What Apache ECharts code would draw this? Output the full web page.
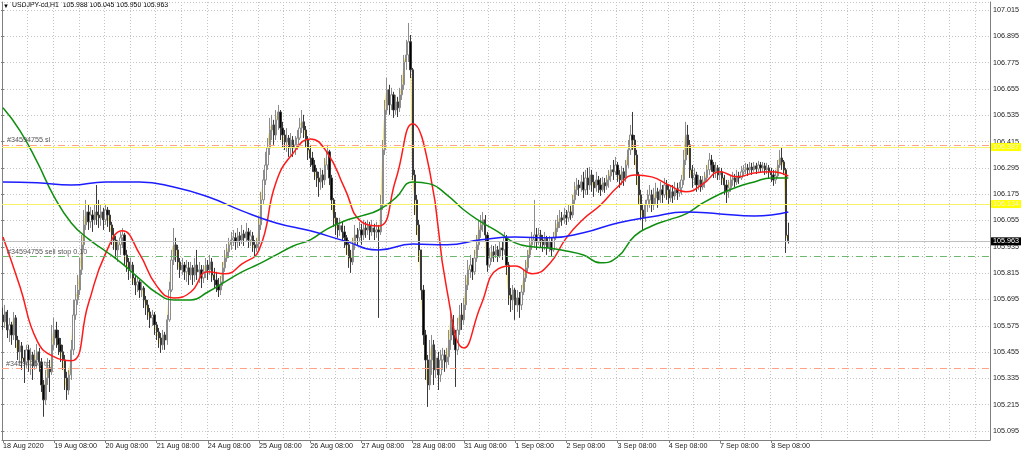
<!DOCTYPE html>
<html><head><meta charset="utf-8">
<script src="https://cdn.jsdelivr.net/npm/echarts@6/dist/echarts.min.js"></script>
<style>html,body{margin:0;padding:0;background:#fff}#c{width:1024px;height:454px}</style>
</head><body><div id="c"></div><script>
const symbol = 'USDJPY-cd,H1';
const dayLabels = ['18 Aug 2020','19 Aug 08:00','20 Aug 08:00','21 Aug 08:00','24 Aug 08:00','25 Aug 08:00','26 Aug 08:00','27 Aug 08:00','28 Aug 08:00','31 Aug 08:00','1 Sep 08:00','2 Sep 08:00','3 Sep 08:00','4 Sep 08:00','7 Sep 08:00','8 Sep 08:00'];
const opens = [
105.624,105.593,105.638,105.556,105.579,105.533,105.611,105.510,105.456,105.483,
105.428,105.410,105.465,105.419,105.442,105.392,105.419,105.456,105.410,105.305,
105.237,105.337,105.383,105.365,105.488,105.556,105.519,105.488,105.456,105.419,
105.337,105.282,105.351,105.465,105.624,105.693,105.738,105.830,105.944,106.035,
106.094,106.049,106.080,106.058,106.094,106.080,106.067,106.094,106.058,106.103,
106.080,106.035,105.989,105.966,105.921,105.944,105.976,105.989,105.898,105.866,
105.830,105.852,105.793,105.761,105.775,105.738,105.747,105.693,105.670,105.638,
105.611,105.624,105.579,105.547,105.519,105.488,105.533,105.510,105.602,105.738,
105.875,105.944,105.921,105.866,105.830,105.852,105.821,105.839,105.807,105.839,
105.807,105.852,105.821,105.830,105.793,105.821,105.852,105.830,105.866,105.807,
105.784,105.761,105.738,105.775,105.839,105.884,105.912,105.944,105.966,105.976,
105.957,105.985,105.966,105.994,105.976,106.003,105.966,105.985,105.944,105.930,
105.948,106.035,106.149,106.240,106.308,106.386,106.468,106.491,106.445,106.514,
106.550,106.477,106.445,106.413,106.431,106.386,106.422,106.386,106.400,106.431,
106.477,106.505,106.468,106.422,106.377,106.340,106.308,106.277,106.249,106.231,
106.263,106.240,106.308,106.368,106.249,106.149,106.067,106.035,106.012,106.031,
106.003,105.976,105.944,105.884,105.866,105.944,105.989,105.976,106.012,105.989,
106.021,106.012,106.031,106.003,106.021,106.003,106.012,106.003,106.126,106.377,
106.559,106.651,106.582,106.628,106.559,106.596,106.569,106.628,106.674,106.778,
106.810,106.870,106.742,106.263,106.149,106.035,105.921,105.738,105.533,105.419,
105.305,105.419,105.488,105.374,105.428,105.351,105.419,105.442,105.410,105.433,
105.510,105.602,105.533,105.465,105.556,105.624,105.602,105.670,105.761,105.830,
105.852,105.821,105.884,105.944,106.012,106.035,106.058,105.989,105.852,105.884,
105.912,105.898,105.921,105.893,105.930,105.921,105.976,105.852,105.715,105.693,
105.738,105.670,105.702,105.670,105.729,105.793,105.839,105.898,105.944,105.966,
105.989,105.957,105.989,105.966,105.944,105.976,105.930,105.957,105.921,105.976,
106.021,106.049,106.067,106.058,106.080,106.067,106.094,106.080,106.149,106.195,
106.217,106.204,106.231,106.195,106.249,106.217,106.263,106.231,106.204,106.240,
106.217,106.195,106.227,106.213,106.240,106.258,106.286,106.277,106.308,106.263,
106.240,106.277,106.249,106.308,106.377,106.445,106.422,106.354,106.263,106.172,
106.103,106.067,106.126,106.149,106.172,106.126,106.158,106.186,106.149,106.195,
106.172,106.217,106.195,106.158,106.186,106.167,106.195,106.181,106.204,106.240,
106.331,106.445,106.400,106.286,106.249,106.263,106.217,106.240,106.208,106.231,
106.249,106.286,106.331,106.308,106.277,106.295,106.263,106.277,106.249,106.217,
106.186,106.204,106.240,106.249,106.231,106.258,106.249,106.277,106.286,106.295,
106.286,106.299,106.286,106.304,106.290,106.308,106.295,106.304,106.286,106.295,
106.277,106.263,106.240,106.258,106.308,106.340,106.322,106.286,105.988];
const highs = [
105.657,105.670,105.647,105.611,105.593,105.638,105.624,105.529,105.510,105.501,
105.465,105.488,105.488,105.474,105.456,105.465,105.492,105.474,105.428,105.328,
105.374,105.428,105.419,105.579,105.611,105.593,105.556,105.519,105.488,105.442,
105.365,105.374,105.510,105.693,105.761,105.807,105.884,105.989,106.103,106.149,
106.126,106.117,106.103,106.126,106.217,106.149,106.126,106.113,106.126,106.117,
106.103,106.049,106.021,105.985,105.966,106.003,106.021,105.999,105.921,105.884,
105.884,105.866,105.807,105.798,105.784,105.775,105.756,105.711,105.693,105.656,
105.647,105.638,105.593,105.565,105.542,105.556,105.547,105.624,105.775,105.921,
106.021,105.976,105.944,105.884,105.884,105.866,105.875,105.866,105.866,105.852,
105.884,105.921,105.866,105.852,105.852,105.884,105.875,105.898,105.884,105.839,
105.821,105.793,105.802,105.866,105.921,105.948,105.976,106.003,106.012,105.999,
106.021,106.003,106.035,106.012,106.044,106.021,106.012,106.003,105.966,105.976,
106.067,106.186,106.286,106.368,106.431,106.523,106.537,106.514,106.559,106.582,
106.559,106.505,106.468,106.477,106.445,106.454,106.440,106.440,106.468,106.523,
106.559,106.537,106.486,106.440,106.400,106.368,106.331,106.295,106.277,106.295,
106.286,106.340,106.400,106.377,106.263,106.158,106.094,106.067,106.067,106.049,
106.031,105.989,105.966,105.921,105.976,106.035,106.021,106.049,106.040,106.058,
106.049,106.058,106.049,106.058,106.040,106.049,106.035,106.172,106.422,106.605,
106.705,106.674,106.660,106.642,106.628,106.619,106.660,106.719,106.810,106.879,
106.956,106.901,106.751,106.286,106.172,106.058,105.921,105.761,105.556,105.442,
105.510,105.533,105.510,105.465,105.456,105.465,105.474,105.465,105.474,105.556,
105.656,105.624,105.556,105.611,105.670,105.679,105.702,105.807,105.875,105.898,
105.884,105.921,105.989,106.058,106.080,106.094,106.080,106.003,105.930,105.944,
105.939,105.948,105.939,105.957,105.957,106.003,105.989,105.866,105.747,105.761,
105.747,105.738,105.729,105.761,105.830,105.875,105.921,105.976,106.003,106.149,
106.021,106.021,106.012,105.989,106.003,105.985,105.985,105.976,106.003,106.058,
106.080,106.103,106.094,106.113,106.103,106.126,106.122,106.172,106.231,106.249,
106.240,106.263,106.277,106.286,106.295,106.299,106.286,106.263,106.277,106.258,
106.249,106.254,106.249,106.263,106.286,106.308,106.331,106.345,106.322,106.286,
106.304,106.295,106.331,106.422,106.491,106.550,106.445,106.377,106.277,106.195,
106.126,106.149,106.195,106.217,106.195,106.204,106.227,106.204,106.231,106.217,
106.249,106.240,106.217,106.213,106.217,106.231,106.227,106.231,106.263,106.377,
106.505,106.491,106.422,106.308,106.295,106.277,106.263,106.258,106.258,106.277,
106.308,106.363,106.354,106.322,106.322,106.308,106.299,106.295,106.263,106.240,
106.240,106.263,106.277,106.267,106.286,106.277,106.304,106.308,106.318,106.313,
106.322,106.318,106.322,106.318,106.327,106.322,106.322,106.318,106.318,106.308,
106.295,106.286,106.286,106.331,106.377,106.386,106.331,106.295,106.045];
const lows = [
105.556,105.565,105.519,105.501,105.488,105.510,105.474,105.419,105.396,105.374,
105.314,105.383,105.365,105.351,105.328,105.374,105.383,105.365,105.273,105.160,
105.214,105.305,105.273,105.351,105.465,105.474,105.442,105.410,105.374,105.282,
105.237,105.260,105.328,105.442,105.602,105.670,105.715,105.807,105.921,106.012,
106.012,106.021,106.003,106.035,106.035,106.021,106.031,106.012,106.035,106.026,
106.003,105.944,105.921,105.884,105.866,105.898,105.930,105.852,105.821,105.784,
105.793,105.761,105.715,105.729,105.702,105.706,105.656,105.624,105.602,105.565,
105.574,105.533,105.510,105.474,105.451,105.465,105.465,105.488,105.593,105.729,
105.852,105.866,105.830,105.793,105.807,105.784,105.775,105.761,105.784,105.761,
105.775,105.784,105.770,105.747,105.770,105.793,105.784,105.807,105.775,105.747,
105.729,105.706,105.715,105.756,105.821,105.866,105.884,105.921,105.939,105.921,
105.930,105.939,105.948,105.939,105.957,105.930,105.939,105.912,105.893,105.912,
105.921,106.012,106.126,106.217,106.286,106.354,106.422,106.400,106.422,106.468,
106.422,106.386,106.377,106.368,106.345,106.354,106.345,106.354,106.377,106.422,
106.454,106.431,106.386,106.331,106.299,106.277,106.240,106.208,106.163,106.195,
106.204,106.217,106.286,106.217,106.103,106.026,105.989,105.976,105.985,105.966,
105.930,105.898,105.839,105.816,105.852,105.921,105.939,105.957,105.944,105.966,
105.976,105.989,105.966,105.985,105.966,105.976,105.611,105.989,106.103,106.354,
106.537,106.537,106.559,106.523,106.537,106.527,106.550,106.605,106.651,106.742,
106.778,106.705,106.240,106.080,105.989,105.866,105.693,105.488,105.328,105.205,
105.282,105.351,105.305,105.337,105.282,105.319,105.374,105.365,105.383,105.396,
105.465,105.488,105.296,105.442,105.533,105.556,105.579,105.647,105.738,105.793,
105.784,105.807,105.866,105.921,105.976,106.003,105.957,105.821,105.839,105.866,
105.866,105.884,105.866,105.884,105.875,105.898,105.807,105.670,105.638,105.647,
105.602,105.638,105.611,105.647,105.715,105.775,105.821,105.884,105.921,105.930,
105.921,105.944,105.930,105.912,105.921,105.898,105.912,105.893,105.912,105.966,
106.003,106.021,106.031,106.040,106.035,106.049,106.058,106.067,106.126,106.172,
106.167,106.186,106.158,106.172,106.172,106.195,106.186,106.163,106.186,106.181,
106.167,106.186,106.181,106.195,106.204,106.231,106.240,106.263,106.231,106.204,
106.217,106.213,106.231,106.295,106.354,106.377,106.308,106.217,106.126,106.058,
106.012,106.049,106.094,106.113,106.094,106.103,106.126,106.113,106.135,106.135,
106.158,106.149,106.126,106.140,106.135,106.149,106.149,106.163,106.172,106.217,
106.308,106.354,106.249,106.204,106.217,106.186,106.195,106.186,106.195,106.204,
106.231,106.263,106.277,106.249,106.249,106.240,106.240,106.217,106.172,106.135,
106.158,106.186,106.213,106.208,106.217,106.222,106.240,106.258,106.267,106.258,
106.272,106.263,106.277,106.267,106.277,106.272,106.277,106.263,106.267,106.249,
106.231,106.213,106.222,106.249,106.295,106.286,106.263,105.907,105.950];
const closes = [
105.593,105.638,105.556,105.579,105.533,105.611,105.510,105.456,105.483,105.428,
105.410,105.465,105.419,105.442,105.392,105.419,105.456,105.410,105.305,105.237,
105.337,105.383,105.365,105.488,105.556,105.519,105.488,105.456,105.419,105.337,
105.282,105.351,105.465,105.624,105.693,105.738,105.830,105.944,106.035,106.094,
106.049,106.080,106.058,106.094,106.080,106.067,106.094,106.058,106.103,106.080,
106.035,105.989,105.966,105.921,105.944,105.976,105.989,105.898,105.866,105.830,
105.852,105.793,105.761,105.775,105.738,105.747,105.693,105.670,105.638,105.611,
105.624,105.579,105.547,105.519,105.488,105.533,105.510,105.602,105.738,105.875,
105.944,105.921,105.866,105.830,105.852,105.821,105.839,105.807,105.839,105.807,
105.852,105.821,105.830,105.793,105.821,105.852,105.830,105.866,105.807,105.784,
105.761,105.738,105.775,105.839,105.884,105.912,105.944,105.966,105.976,105.957,
105.985,105.966,105.994,105.976,106.003,105.966,105.985,105.944,105.930,105.948,
106.035,106.149,106.240,106.308,106.386,106.468,106.491,106.445,106.514,106.550,
106.477,106.445,106.413,106.431,106.386,106.422,106.386,106.400,106.431,106.477,
106.505,106.468,106.422,106.377,106.340,106.308,106.277,106.249,106.231,106.263,
106.240,106.308,106.368,106.249,106.149,106.067,106.035,106.012,106.031,106.003,
105.976,105.944,105.884,105.866,105.944,105.989,105.976,106.012,105.989,106.021,
106.012,106.031,106.003,106.021,106.003,106.012,106.003,106.126,106.377,106.559,
106.651,106.582,106.628,106.559,106.596,106.569,106.628,106.674,106.778,106.810,
106.870,106.742,106.263,106.149,106.035,105.921,105.738,105.533,105.419,105.305,
105.419,105.488,105.374,105.428,105.351,105.419,105.442,105.410,105.433,105.510,
105.602,105.533,105.465,105.556,105.624,105.602,105.670,105.761,105.830,105.852,
105.821,105.884,105.944,106.012,106.035,106.058,105.989,105.852,105.884,105.912,
105.898,105.921,105.893,105.930,105.921,105.976,105.852,105.715,105.693,105.738,
105.670,105.702,105.670,105.729,105.793,105.839,105.898,105.944,105.966,105.989,
105.957,105.989,105.966,105.944,105.976,105.930,105.957,105.921,105.976,106.021,
106.049,106.067,106.058,106.080,106.067,106.094,106.080,106.149,106.195,106.217,
106.204,106.231,106.195,106.249,106.217,106.263,106.231,106.204,106.240,106.217,
106.195,106.227,106.213,106.240,106.258,106.286,106.277,106.308,106.263,106.240,
106.277,106.249,106.308,106.377,106.445,106.422,106.354,106.263,106.172,106.103,
106.067,106.126,106.149,106.172,106.126,106.158,106.186,106.149,106.195,106.172,
106.217,106.195,106.158,106.186,106.167,106.195,106.181,106.204,106.240,106.331,
106.445,106.400,106.286,106.249,106.263,106.217,106.240,106.208,106.231,106.249,
106.286,106.331,106.308,106.277,106.295,106.263,106.277,106.249,106.217,106.186,
106.204,106.240,106.249,106.231,106.258,106.249,106.277,106.286,106.295,106.286,
106.299,106.286,106.304,106.290,106.308,106.295,106.304,106.286,106.295,106.277,
106.263,106.240,106.258,106.308,106.340,106.322,106.286,105.988,105.963];
// moving averages read every 8 bars (red, green) and every 16 bars (blue)
const redMA = [
105.980,105.752,105.506,105.433,105.415,105.675,105.903,106.008,105.903,105.757,
105.702,105.729,105.821,105.812,105.857,105.921,106.231,106.363,106.427,106.363,
106.204,106.049,106.030,106.240,106.496,106.277,105.739,105.474,105.670,105.834,
105.848,105.812,105.857,105.976,106.062,106.126,106.208,106.263,106.254,106.217,
106.186,106.222,106.277,106.254,106.272,106.277,106.258];
const greenMA = [
106.569,106.464,106.322,106.163,106.044,105.971,105.916,105.857,105.789,105.725,
105.693,105.693,105.729,105.775,105.821,105.857,105.898,105.939,105.967,106.017,
106.053,106.076,106.103,106.158,106.231,106.222,106.172,106.103,106.049,106.003,
105.953,105.935,105.930,105.916,105.898,105.862,105.889,105.985,106.030,106.058,
106.085,106.135,106.176,106.208,106.231,106.249,106.249];
const blueMA = [
106.231,106.227,106.217,106.231,106.231,106.208,106.163,106.099,106.044,106.008,
105.962,105.921,105.948,105.944,105.967,105.980,105.976,105.999,106.044,106.072,
106.094,106.085,106.076,106.094];
const slLevel = 106.400, tpLevel = 105.381, sellStopLevel = 105.890;
const hLine1 = 106.387, hLine2 = 106.134;
const orderId = '#34594755';

const nBars = closes.length;
const nSlots = 463;
const cats = Array.from({length: nSlots}, (_, i) => String(i));
const candleData = closes.map((c, i) => [opens[i], c, lows[i], highs[i]]);
const pts = (arr, step) => arr.map((v, k) => [k * step, v]);
const FONT = 'Liberation Sans';
const last = nBars - 1;
const title = symbol + '  ' + [opens[last], highs[last], lows[last], closes[last]].map(v => v.toFixed(3)).join(' ');
const isDayTick = (i) => i % 24 === 0 && i / 24 < dayLabels.length;

const dot = [1, 2];
const dashDot = [7, 3, 1, 3];
const chart = echarts.init(document.getElementById('c'), null, {renderer: 'canvas'});
chart.setOption({
  animation: false,
  backgroundColor: '#ffffff',
  graphic: [
    {type: 'text', left: 3, top: 3, style: {text: '\u25BC', fontSize: 6, fill: '#000', fontFamily: FONT}},
    {type: 'text', left: 12, top: 2, style: {text: title, fontSize: 6.9, fill: '#000', fontFamily: FONT}}
  ],
  grid: [
    {left: 1, top: 2, width: 989, height: 438},
    {left: 1, top: 2, width: 989, height: 429}
  ],
  xAxis: [
    {type: 'category', gridIndex: 0, data: cats, boundaryGap: true,
     axisLine: {show: true, lineStyle: {color: '#7f7f7f', width: 1}},
     axisTick: {show: true, alignWithLabel: true, length: 3, lineStyle: {color: '#7f7f7f'}, interval: isDayTick},
     axisLabel: {show: true, align: 'left', margin: 3, fontSize: 7.2, color: '#222', fontFamily: FONT,
       interval: isDayTick,
       formatter: (v, i) => isDayTick(i) ? dayLabels[i / 24] : ''},
     splitLine: {show: true, interval: (i) => i % 12 === 0, lineStyle: {color: '#c4c4c4', type: dot, width: 1}}},
    {type: 'value', gridIndex: 1, show: false, min: 0, max: 1}
  ],
  yAxis: [
    {type: 'value', gridIndex: 0, min: 105.054, max: 107.0515, position: 'right',
     axisLine: {show: true, lineStyle: {color: '#7f7f7f'}}, axisTick: {show: false},
     axisLabel: {show: false}, splitLine: {show: false}},
    {type: 'value', gridIndex: 1, min: 105.095, max: 107.0515, interval: 0.12, position: 'right',
     axisLine: {show: false}, axisTick: {show: true, length: 3, lineStyle: {color: '#7f7f7f'}},
     axisLabel: {show: true, showMaxLabel: false, margin: 3, fontSize: 7.2, color: '#222', fontFamily: FONT,
       formatter: (v) => v.toFixed(3)},
     splitLine: {show: true, lineStyle: {color: '#c4c4c4', type: dot, width: 1}}},
    {type: 'value', gridIndex: 0, min: 105.054, max: 107.0515, position: 'left',
     axisLine: {show: true, lineStyle: {color: '#7f7f7f'}}, axisTick: {show: false},
     axisLabel: {show: false}, splitLine: {show: false}}
  ],
  series: [
    {type: 'line', xAxisIndex: 0, yAxisIndex: 0, data: closes, showSymbol: false, smooth: 0.4,
     lineStyle: {color: '#f3df6a', width: 1}, z: 1},
    {type: 'candlestick', xAxisIndex: 0, yAxisIndex: 0, data: candleData, barWidth: 1.8, z: 2,
     itemStyle: {color: '#ffffff', borderColor: '#8c8c8c', color0: '#000000', borderColor0: '#3a3a3a', borderWidth: 1}},
    {type: 'line', xAxisIndex: 0, yAxisIndex: 0, data: pts(redMA, 8), showSymbol: false, smooth: true,
     lineStyle: {color: '#ff1a1a', width: 1.5}, z: 4},
    {type: 'line', xAxisIndex: 0, yAxisIndex: 0, data: pts(greenMA, 8), showSymbol: false, smooth: true,
     lineStyle: {color: '#0f8f0f', width: 1.5}, z: 4},
    {type: 'line', xAxisIndex: 0, yAxisIndex: 0, data: pts(blueMA, 16), showSymbol: false, smooth: true,
     lineStyle: {color: '#1c1cff', width: 1.5}, z: 4,
     markLine: {silent: true, symbol: 'none', animation: false,
       data: [
         {yAxis: slLevel, lineStyle: {color: '#ffa286', type: dashDot, width: 1},
          label: {show: true, position: 'insideStartTop', distance: [5, 1], formatter: orderId + ' sl', fontSize: 7.2, color: '#555', fontFamily: FONT}},
         {yAxis: hLine1, lineStyle: {color: '#f8f26a', type: 'solid', width: 1},
          label: {show: true, position: 'end', distance: 1, formatter: hLine1.toFixed(3), backgroundColor: '#ffff00', color: '#f4f4d0', padding: [1, 2, 0, 2], fontSize: 7.2, fontFamily: FONT}},
         {yAxis: hLine2, lineStyle: {color: '#f8f26a', type: 'solid', width: 1},
          label: {show: true, position: 'end', distance: 1, formatter: hLine2.toFixed(3), backgroundColor: '#ffff00', color: '#f4f4d0', padding: [1, 2, 0, 2], fontSize: 7.2, fontFamily: FONT}},
         {yAxis: closes[last], lineStyle: {color: '#c0c0c0', type: 'solid', width: 1},
          label: {show: true, position: 'end', distance: 1, formatter: closes[last].toFixed(3), backgroundColor: '#000000', color: '#ffffff', padding: [1, 2, 0, 2], fontSize: 7.2, fontFamily: FONT}},
         {yAxis: sellStopLevel, lineStyle: {color: '#6db86d', type: dashDot, width: 1},
          label: {show: true, position: 'insideStartTop', distance: [5, 1], formatter: orderId + ' sell stop 0.10', fontSize: 7.2, color: '#555', fontFamily: FONT}},
         {yAxis: tpLevel, lineStyle: {color: '#ffa286', type: dashDot, width: 1},
          label: {show: true, position: 'insideStartTop', distance: [4, 1], formatter: orderId + ' tp', fontSize: 7.2, color: '#555', fontFamily: FONT}}
       ]}}
  ]
});
</script></body></html>
